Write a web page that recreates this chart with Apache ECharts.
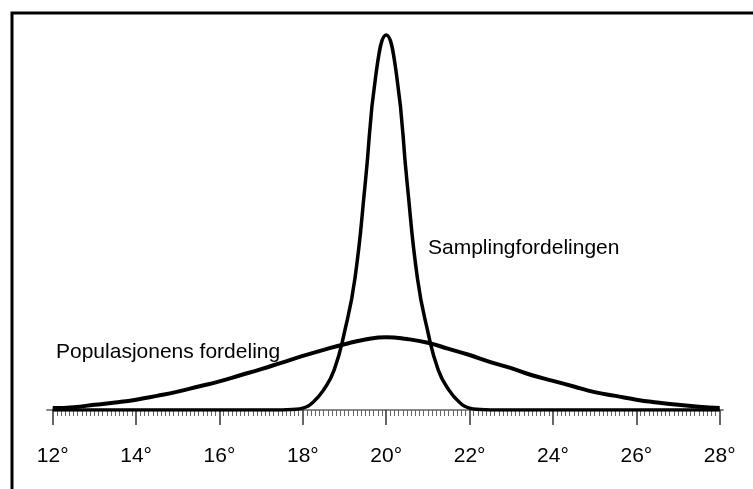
<!DOCTYPE html>
<html>
<head>
<meta charset="utf-8">
<script src="https://cdn.jsdelivr.net/npm/echarts@6/dist/echarts.min.js"></script>
<style>
  html, body { margin: 0; padding: 0; background: #fff; }
  #chart { width: 753px; height: 489px; }
</style>
</head>
<body>
<div id="chart"></div>
<script>
// Temperature axis (degrees)
const xMin = 12;
const xMax = 28;
const tickStep = 2;

// Population distribution: temperature and relative density
const popX = [12, 12.5, 13, 13.5, 14, 14.5, 15, 15.5, 16, 16.5, 17, 17.5, 18, 18.5, 19, 19.5,
              20, 20.5, 21, 21.5, 22, 22.5, 23, 23.5, 24, 24.5, 25, 25.5, 26, 26.5, 27, 27.5, 28];
const popY = [0.004, 0.006, 0.011, 0.016, 0.022, 0.030, 0.039, 0.050, 0.061, 0.074, 0.087, 0.101, 0.115, 0.128, 0.140, 0.150,
              0.155, 0.151, 0.143, 0.130, 0.117, 0.102, 0.089, 0.074, 0.062, 0.050, 0.038, 0.030, 0.022, 0.016, 0.011, 0.007, 0.004];

// Sampling distribution of the mean: temperature and relative density
const sampX = [12, 17.5, 17.75, 18, 18.25, 18.5, 18.75, 19, 19.25, 19.5, 19.75,
               20, 20.25, 20.5, 20.75, 21, 21.25, 21.5, 21.75, 22, 22.25, 22.5, 28];
const sampY = [0, 0, 0.001, 0.004, 0.017, 0.043, 0.085, 0.166, 0.280, 0.485, 0.712,
               0.798, 0.712, 0.485, 0.280, 0.166, 0.085, 0.043, 0.017, 0.004, 0.001, 0, 0];

const popName = 'Populasjonens fordeling';
const sampName = 'Samplingfordelingen';

const pairs = (xs, ys) => xs.map((x, i) => [x, ys[i]]);

const font = '"Liberation Sans", Arial, Helvetica, sans-serif';

const chart = echarts.init(document.getElementById('chart'), null, { renderer: 'canvas' });

chart.setOption({
  animation: false,
  backgroundColor: '#ffffff',
  grid: [
    // plotting area
    { left: 52.7, right: 33.3, top: 10.56, bottom: 79, containLabel: false },
    // slightly wider strip that carries the axis line
    { left: 47, right: 30, top: 10.56, bottom: 79, containLabel: false }
  ],
  xAxis: [
    {
      type: 'value', gridIndex: 0, min: xMin, max: xMax, interval: tickStep,
      offset: 3,
      axisLine: { show: false },
      axisTick: { show: true, length: 15, lineStyle: { color: '#333', width: 1.5 } },
      minorTick: { show: true, splitNumber: 20, length: 6, lineStyle: { color: '#666', width: 1 } },
      splitLine: { show: false },
      axisLabel: {
        show: true, margin: 33, color: '#000', fontFamily: font, fontSize: 21,
        formatter: v => v + '°'
      }
    },
    {
      type: 'value', gridIndex: 1, min: 0, max: 1,
      offset: 3,
      axisLine: { show: true, lineStyle: { color: '#888', width: 2 } },
      axisTick: { show: false }, axisLabel: { show: false }, splitLine: { show: false }
    }
  ],
  yAxis: [
    { type: 'value', gridIndex: 0, min: 0, max: 0.85, show: false },
    { type: 'value', gridIndex: 1, min: 0, max: 1, show: false }
  ],
  series: [
    {
      name: popName, type: 'line', xAxisIndex: 0, yAxisIndex: 0,
      data: pairs(popX, popY), smooth: 0.5, symbol: 'none',
      lineStyle: { color: '#000', width: 4 }, z: 5
    },
    {
      name: sampName, type: 'line', xAxisIndex: 0, yAxisIndex: 0,
      data: pairs(sampX, sampY), smooth: 0.5, symbol: 'none',
      lineStyle: { color: '#000', width: 3.5 }, z: 5
    }
  ],
  graphic: [
    // frame: only its top and left edges fall inside the picture
    { type: 'rect', left: 9.5, top: 10.5, shape: { width: 800, height: 540 },
      style: { fill: 'none', stroke: '#000', lineWidth: 3 }, z: 10, silent: true },
    { type: 'text', left: 428, top: 238,
      style: { text: sampName, font: '21px ' + font, fill: '#000' }, z: 10 },
    { type: 'text', left: 56, top: 342,
      style: { text: popName, font: '21px ' + font, fill: '#000' }, z: 10 }
  ]
});
</script>
</body>
</html>
